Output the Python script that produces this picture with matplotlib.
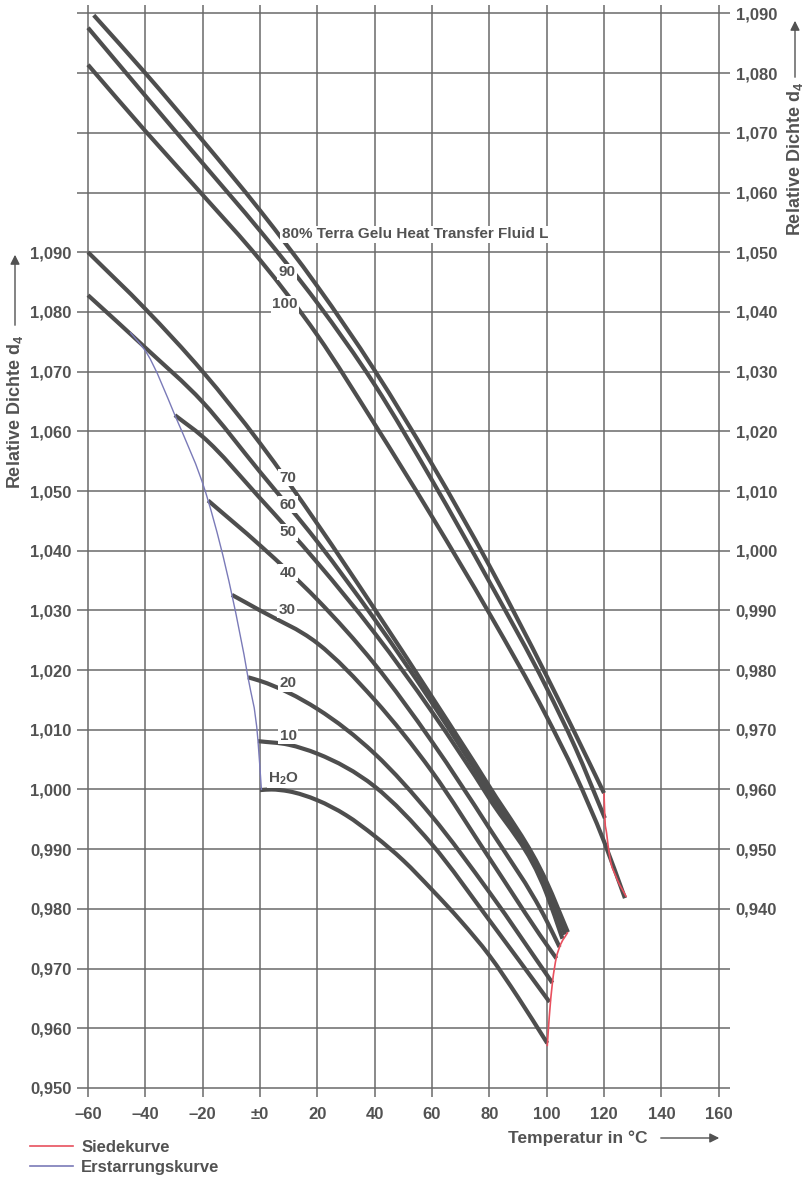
import numpy as np
import matplotlib.pyplot as plt
from matplotlib.lines import Line2D
from matplotlib.path import Path
from matplotlib.patches import PathPatch

plt.rcParams['font.family'] = ['Liberation Sans', 'DejaVu Sans']
plt.rcParams['font.weight'] = 'bold'
plt.rcParams['mathtext.fontset'] = 'custom'
plt.rcParams['mathtext.rm'] = 'Liberation Sans:bold'
plt.rcParams['mathtext.bf'] = 'Liberation Sans:bold'

TEXT = '#525252'
CURVE = '#4e4e4e'
GRID = '#6a6a6a'
RED = '#e8505e'
BLUE = '#7a7ab8'

# %% data -- lower group, left scale (relative density d4)
t_h2o = [0, 4, 10, 20, 30, 40, 50, 60, 70, 80, 90, 100.2]
d_h2o = [0.9999, 1.0000, 0.9997, 0.9982, 0.9957, 0.9922, 0.9881, 0.9832, 0.9780, 0.9722, 0.9652, 0.9575]
t_10 = [-0.7, 10, 20, 40, 60, 80, 101.0]
d_10 = [1.0081, 1.0075, 1.0060, 1.0005, 0.9908, 0.9781, 0.9644]
t_20 = [-4.2, 0, 20, 40, 60, 80, 102.0]
d_20 = [1.0188, 1.0182, 1.0135, 1.0060, 0.9955, 0.9828, 0.9676]
t_30 = [-9.8, 0, 20, 40, 60, 80, 100, 103.4]
d_30 = [1.0326, 1.0300, 1.0245, 1.0150, 1.0030, 0.9885, 0.9740, 0.9717]
t_40 = [-18.1, 0, 20, 40, 60, 80, 100, 104.5]
d_40 = [1.0484, 1.0409, 1.0318, 1.0210, 1.0080, 0.9935, 0.9780, 0.9736]
t_50 = [-29.7, -20, 0, 20, 40, 60, 80, 100, 105.5]
d_50 = [1.0627, 1.0591, 1.0488, 1.0380, 1.0262, 1.0130, 0.9985, 0.9825, 0.9750]
t_60 = [-60, -40, -20, 0, 20, 40, 60, 80, 100, 106.4]
d_60 = [1.0828, 1.0740, 1.0649, 1.0532, 1.0415, 1.0285, 1.0145, 0.9995, 0.9835, 0.9757]
t_70 = [-60, -40, -20, 0, 20, 40, 60, 80, 100, 107.4]
d_70 = [1.0900, 1.0805, 1.0700, 1.0580, 1.0445, 1.0302, 1.0155, 1.0005, 0.9845, 0.9761]

# upper group, right scale
t_80 = [-58, -40, -20, 0, 20, 40, 60, 80, 100, 110, 120]
d_80 = [1.0897, 1.0800, 1.0687, 1.0570, 1.0443, 1.0302, 1.0145, 0.9975, 0.9790, 0.9693, 0.9594]
t_90 = [-60, -40, -20, 0, 20, 40, 60, 80, 100, 110, 120.3]
d_90 = [1.0876, 1.0762, 1.0649, 1.0536, 1.0415, 1.0278, 1.0118, 0.9948, 0.9770, 0.9670, 0.9552]
t_100 = [-60, -40, -20, 0, 20, 40, 60, 80, 100, 110, 120, 127.3]
d_100 = [1.0814, 1.0703, 1.0596, 1.0487, 1.0361, 1.0212, 1.0057, 0.9895, 0.9722, 0.9625, 0.9513, 0.9418]

# boiling curves (Siedekurve) and freezing curve (Erstarrungskurve)
t_boil_low = [100.2, 100.9, 102.0, 103.4, 104.5, 107.4]
d_boil_low = [0.9570, 0.9619, 0.9676, 0.9719, 0.9736, 0.9761]
t_boil_high = [120, 120.3, 120.9, 122.0, 124.2, 127.8]
d_boil_high = [0.9594, 0.9552, 0.9527, 0.9487, 0.9454, 0.9420]
t_freeze = [-45.3, -39.5, -29.7, -18.1, -9.8, -4.2, -0.7, 0.5]
d_freeze = [1.0766, 1.0731, 1.0627, 1.0484, 1.0326, 1.0188, 1.0081, 0.9999]

x_ticks = [-60, -40, -20, 0, 20, 40, 60, 80, 100, 120, 140, 160]
x_labels = ['\u201360', '\u201340', '\u201320', '\u00b10', '20', '40', '60', '80',
            '100', '120', '140', '160']

lower = [(t_h2o, d_h2o), (t_10, d_10), (t_20, d_20), (t_30, d_30),
         (t_40, d_40), (t_50, d_50), (t_60, d_60), (t_70, d_70)]
upper = [(t_80, d_80), (t_90, d_90), (t_100, d_100)]


def smooth_path(t, d):
    """Cubic Hermite (Bezier) path through the read points, x as parameter."""
    x = np.asarray(t, float)
    y = np.asarray(d, float)
    h = np.diff(x)
    s = np.diff(y) / h
    m = np.empty_like(x)
    m[0], m[-1] = s[0], s[-1]
    m[1:-1] = (h[:-1] * s[1:] + h[1:] * s[:-1]) / (h[:-1] + h[1:])
    verts, codes = [(x[0], y[0])], [Path.MOVETO]
    for i in range(len(x) - 1):
        verts += [(x[i] + h[i] / 3, y[i] + m[i] * h[i] / 3),
                  (x[i + 1] - h[i] / 3, y[i + 1] - m[i + 1] * h[i] / 3),
                  (x[i + 1], y[i + 1])]
        codes += [Path.CURVE4] * 3
    return Path(verts, codes)


def draw(a, t, d, **kw):
    a.add_patch(PathPatch(smooth_path(t, d), fill=False, capstyle='butt', **kw))


# %% figure
W, H = 807, 1182
fig = plt.figure(figsize=(W / 100, H / 100), dpi=100)
ax = fig.add_axes([77 / W, 1 - 1097 / H, (730 - 77) / W, (1097 - 5) / H])
ax.set_xlim(-63.84, 163.95)
ax.set_ylim(0.94849, 1.13141)
ax2 = ax.twinx()
ax2.set_ylim(0.94849 - 0.04, 1.13141 - 0.04)

for a in (ax, ax2):
    for s in a.spines.values():
        s.set_visible(False)

ax.set_xticks(x_ticks)
ax.set_xticklabels(x_labels)
yt = np.round(np.arange(0.95, 1.1305, 0.01), 3)
ax.set_yticks(yt)
ax.set_yticklabels([f'{v:.3f}'.replace('.', ',') if v <= 1.0905 else '' for v in yt])
yt2 = np.round(np.arange(0.91, 1.0905, 0.01), 3)
ax2.set_yticks(yt2)
ax2.set_yticklabels([f'{v:.3f}'.replace('.', ',') if v >= 0.9395 else '' for v in yt2])
ax.grid(True, color=GRID, lw=1.1, zorder=0)
ax.tick_params(length=0, labelsize=12, labelcolor=TEXT)
ax.tick_params(axis='x', pad=7)
ax.tick_params(axis='y', pad=4)
ax2.tick_params(length=0, labelsize=12, labelcolor=TEXT, pad=4)

for t, d in lower:
    draw(ax, t, d, edgecolor=CURVE, lw=3.0, zorder=3)
for t, d in upper:
    draw(ax2, t, d, edgecolor=CURVE, lw=3.0, zorder=3)

draw(ax, t_boil_low, d_boil_low, edgecolor=RED, lw=1.2, zorder=4)
draw(ax2, t_boil_high, d_boil_high, edgecolor=RED, lw=1.2, zorder=4)
draw(ax, t_freeze, d_freeze, edgecolor=BLUE, lw=1.0, zorder=4)

# curve labels
box = dict(facecolor='white', edgecolor='none', pad=1.0)
for txt, x, y in [('70', 9.8, 1.0522), ('60', 9.8, 1.0477), ('50', 9.8, 1.0431),
                  ('40', 9.8, 1.0363), ('30', 9.4, 1.0301), ('20', 9.8, 1.0178),
                  ('10', 9.8, 1.0090)]:
    ax.text(x, y, txt, ha='center', va='center', fontsize=11, color=TEXT,
            bbox=box, zorder=6)
ax.text(2.8, 1.0019, 'H$_2$O', ha='left', va='center', fontsize=11, color=TEXT,
        bbox=box, zorder=6)
ax2.text(7.6, 1.0530, '80% Terra Gelu Heat Transfer Fluid L', ha='left', va='center',
         fontsize=11, color=TEXT, bbox=box, zorder=6)
ax2.text(9.4, 1.0467, '90', ha='center', va='center', fontsize=11, color=TEXT,
         bbox=box, zorder=6)
ax2.text(8.7, 1.0413, '100', ha='center', va='center', fontsize=11, color=TEXT,
         bbox=box, zorder=6)


# axis titles with arrows
def fpx(x, y):
    return x / W, 1 - y / H


fig.text(*fpx(15, 412), 'Relative Dichte d$_4$', rotation=90, ha='center', va='center',
         fontsize=13, color=TEXT)
fig.text(*fpx(795, 159), 'Relative Dichte d$_4$', rotation=90, ha='center', va='center',
         fontsize=13, color=TEXT)
fig.text(*fpx(578, 1138), 'Temperatur in \u00b0C', ha='center', va='center',
         fontsize=12.5, color=TEXT)
arrow = dict(arrowstyle='-|>', color=TEXT, lw=1.0, mutation_scale=14)
for (x0, y0), (x1, y1) in [((15, 328), (15, 252)), ((795, 80), (795, 18)),
                           ((658, 1138), (722, 1138))]:
    fig.add_artist(plt.Annotation('', xy=fpx(x1, y1), xytext=fpx(x0, y0),
                                  xycoords='figure fraction', textcoords='figure fraction',
                                  arrowprops=arrow))

handles = [Line2D([], [], color=RED, lw=1.2, label='Siedekurve'),
           Line2D([], [], color=BLUE, lw=1.2, label='Erstarrungskurve')]
fig.legend(handles=handles, loc='upper left', bbox_to_anchor=fpx(23, 1133),
           frameon=False, fontsize=12, labelcolor=TEXT, handlelength=2.6,
           handletextpad=0.5, labelspacing=0.3, borderaxespad=0)

fig.savefig('out.png', dpi=100)
